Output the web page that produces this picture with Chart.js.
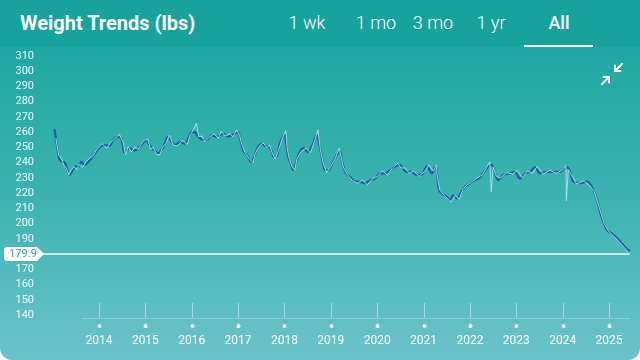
<!DOCTYPE html>
<html>
<head>
<meta charset="utf-8">
<script src="https://cdn.jsdelivr.net/npm/chart.js@4.4.1/dist/chart.umd.min.js"></script>
<style>
    html, body { margin: 0; padding: 0; background: #ffffff; }
    .card {
        position: relative;
        width: 640px;
        height: 360px;
        overflow: hidden;
        border-radius: 0 0 12px 12px;
        background: linear-gradient(to bottom, #1fa6a0 0px, #22a8a2 60px, #3db3b1 200px, #6cc3cb 360px);
        font-family: Roboto, "Open Sans", sans-serif;
    }
    .header {
        position: absolute;
        left: 0; top: 0;
        width: 640px; height: 47px;
        background: #18a29c;
        color: #ffffff;
    }
    .title {
        position: absolute;
        left: 20px; top: 11px;
        font-size: 20px;
        font-weight: 700;
    }
    .tab {
        position: absolute;
        top: 12px;
        font-size: 18px;
        font-weight: 300;
        transform: translateX(-50%);
        white-space: nowrap;
    }
    .tab.active { font-weight: 500; }
    .underline {
        position: absolute;
        left: 524px; top: 45px;
        width: 69px; height: 2px;
        background: #ffffff;
    }
    #chart { position: absolute; left: 0; top: 47px; }
    .collapse { position: absolute; left: 598px; top: 60px; }
</style>
</head>
<body>
<div class="card">
    <div class="header">
        <div class="title">Weight Trends (lbs)</div>
        <div class="tab" style="left:307px">1 wk</div>
        <div class="tab" style="left:376px">1 mo</div>
        <div class="tab" style="left:433px">3 mo</div>
        <div class="tab" style="left:491px">1 yr</div>
        <div class="tab active" style="left:559px">All</div>
        <div class="underline"></div>
    </div>
    <canvas id="chart" width="640" height="313"></canvas>
    <svg class="collapse" width="28" height="28" viewBox="0 0 28 28">
        <g stroke="#ffffff" stroke-width="2" fill="none" stroke-linecap="round">
            <line x1="24" y1="4" x2="17" y2="11"/>
            <polyline points="17,5.5 17,11 22.5,11"/>
            <line x1="4" y1="24" x2="11" y2="17"/>
            <polyline points="5.5,17 11,17 11,22.5"/>
        </g>
    </svg>
</div>

<script>
// Data trend berat (lbs) - tanggal dalam tahun desimal
const trendDates = [
    2013.04, 2013.10, 2013.15, 2013.22, 2013.26, 2013.32, 2013.37, 2013.43, 2013.49, 2013.55,
    2013.62, 2013.69, 2013.75, 2013.80, 2013.91, 2014.02, 2014.12, 2014.23, 2014.30, 2014.41,
    2014.48, 2014.55, 2014.60, 2014.66, 2014.73, 2014.80, 2014.91, 2015.02, 2015.08, 2015.14,
    2015.20, 2015.28, 2015.34, 2015.39, 2015.49, 2015.56, 2015.64, 2015.75, 2015.86, 2015.93,
    2016.00, 2016.07, 2016.12, 2016.18, 2016.25, 2016.32, 2016.43, 2016.54, 2016.61, 2016.68,
    2016.79, 2016.86, 2016.93, 2017.00, 2017.05, 2017.11, 2017.19, 2017.29, 2017.35, 2017.40,
    2017.51, 2017.58, 2017.65, 2017.72, 2017.76, 2017.83, 2017.90, 2018.01, 2018.04, 2018.08,
    2018.13, 2018.19, 2018.25, 2018.30, 2018.41, 2018.51, 2018.62, 2018.70, 2018.75, 2018.80,
    2018.87, 2018.95, 2019.05, 2019.15, 2019.20, 2019.24, 2019.31, 2019.42, 2019.52, 2019.63,
    2019.74, 2019.85, 2019.95, 2020.06, 2020.17, 2020.28, 2020.38, 2020.49, 2020.56, 2020.64,
    2020.74, 2020.85, 2020.96, 2021.07, 2021.18, 2021.25, 2021.28, 2021.32, 2021.39, 2021.50,
    2021.57, 2021.64, 2021.72, 2021.82, 2021.89, 2022.00, 2022.11, 2022.22, 2022.33, 2022.40,
    2022.47, 2022.54, 2022.61, 2022.72, 2022.87, 2022.97, 2023.08, 2023.19, 2023.30, 2023.40,
    2023.51, 2023.66, 2023.80, 2023.94, 2024.09, 2024.16, 2024.23, 2024.38, 2024.52, 2024.63,
    2024.74, 2024.84, 2024.95, 2025.06, 2025.17, 2025.27, 2025.38, 2025.45
];
const trendWeights = [
    262, 250, 242, 240.5, 240, 235, 232, 235, 237.5, 237,
    240.5, 238.5, 240, 241.5, 246, 250.5, 251.5, 251, 254.5, 257,
    256, 246, 248, 249.5, 248, 248.5, 251.5, 255, 252, 249.5,
    248, 246, 248, 250.5, 257, 254, 251.5, 253.5, 252.5, 256,
    260, 260, 258, 256, 255, 255, 258, 257, 258, 259,
    257, 258, 259, 260, 255, 248, 245, 240.5, 244, 248.5,
    252.5, 251, 250.5, 248, 244, 244, 252.5, 258, 252, 244,
    240, 235, 240, 245, 249.5, 247, 252.5, 258, 252, 245,
    235, 235, 240.5, 246, 247.5, 241, 234, 230.5, 227.5, 227.5,
    226.5, 228.5, 229.5, 233, 233, 235, 237.5, 238.5, 236, 234,
    234, 232, 232, 237.5, 233, 237.5, 236, 224, 220, 217.5,
    215.5, 218.5, 216.5, 221, 224, 226.5, 228.5, 230.5, 235, 237.5,
    238.5, 233, 228.5, 232, 233, 234, 229.5, 233, 234, 237,
    233, 234, 234, 234, 237, 234, 227.5, 226.5, 227.5, 224,
    215.5, 204.5, 196, 193.5, 190.5, 187, 183.5, 182
];

// Data timbangan mentah
const rawDates = [
    2013.07, 2013.13, 2013.20, 2013.24, 2013.30, 2013.35, 2013.40, 2013.46, 2013.52, 2013.58,
    2013.65, 2013.72, 2013.78, 2013.86, 2013.96, 2014.06, 2014.17, 2014.26, 2014.35, 2014.44,
    2014.52, 2014.57, 2014.63, 2014.70, 2014.77, 2014.85, 2014.96, 2015.05, 2015.11, 2015.17,
    2015.24, 2015.31, 2015.37, 2015.44, 2015.52, 2015.60, 2015.69, 2015.80, 2015.90, 2015.97,
    2016.04, 2016.10, 2016.15, 2016.22, 2016.28, 2016.37, 2016.48, 2016.57, 2016.64, 2016.72,
    2016.82, 2016.89, 2016.97, 2017.03, 2017.08, 2017.15, 2017.24, 2017.32, 2017.37, 2017.45,
    2017.54, 2017.62, 2017.68, 2017.74, 2017.80, 2017.87, 2017.95, 2018.03, 2018.06, 2018.11,
    2018.16, 2018.22, 2018.27, 2018.35, 2018.46, 2018.56, 2018.66, 2018.72, 2018.77, 2018.84,
    2018.91, 2019.00, 2019.10, 2019.18, 2019.22, 2019.27, 2019.36, 2019.47, 2019.57, 2019.68,
    2019.79, 2019.90, 2020.00, 2020.11, 2020.22, 2020.33, 2020.44, 2020.52, 2020.60, 2020.69,
    2020.79, 2020.90, 2021.02, 2021.12, 2021.21, 2021.27, 2021.30, 2021.35, 2021.44, 2021.53,
    2021.60, 2021.68, 2021.77, 2021.85, 2021.94, 2022.05, 2022.16, 2022.27, 2022.36, 2022.43,
    2022.46, 2022.50, 2022.57, 2022.66, 2022.79, 2022.92, 2023.02, 2023.13, 2023.24, 2023.35,
    2023.45, 2023.58, 2023.72, 2023.87, 2024.01, 2024.07, 2024.08, 2024.12, 2024.19, 2024.30,
    2024.45, 2024.57, 2024.68, 2024.79, 2024.90, 2025.00, 2025.11, 2025.22, 2025.32, 2025.41
];
const rawWeights = [
    256, 245, 242, 238.5, 236, 232, 235, 237.5, 235.5, 239,
    237, 240.5, 242.5, 244, 249, 252.5, 249.5, 253.5, 256, 258.5,
    253.5, 245, 250.5, 247, 250, 249, 254.5, 255.5, 249, 250,
    245.5, 245, 250, 252.5, 258, 251.5, 251, 254.5, 252, 258.5,
    261.5, 266, 257, 257.5, 254, 256.5, 259, 256, 260.5, 257.5,
    259, 257, 261.5, 258, 252, 246.5, 242.5, 240, 246, 250.5,
    253, 250, 251.5, 246, 242.5, 248, 255.5, 261, 249, 242,
    237.5, 235, 242.5, 247, 249.5, 246.5, 255, 261.5, 249.5, 239,
    233.5, 237.5, 243, 249.5, 244, 237, 232, 228, 226.5, 228.5,
    225.5, 229.5, 231, 234.5, 232, 236.5, 239.5, 236.5, 236.5, 233,
    234.5, 231, 234, 238.5, 234.5, 238.5, 230, 222, 218.5, 216,
    214, 218.5, 216, 222.5, 225.5, 227.5, 230, 232, 237, 240.5,
    221, 237, 231, 230, 233.5, 232.5, 235, 230, 234.5, 233,
    237.5, 232.5, 235, 233, 235.5, 238, 215, 235.5, 232, 226,
    228, 225.5, 221, 210.5, 199.5, 194.5, 191.5, 188, 184.5, 181.5
];

// Tick sumbu
const yearTicks = [2014, 2015, 2016, 2017, 2018, 2019, 2020, 2021, 2022, 2023, 2024, 2025];
const weightTicks = [140, 150, 160, 170, 180, 190, 200, 210, 220, 230, 240, 250, 260, 270, 280, 290, 300, 310];
const currentWeight = 179.9;

const toPoints = (xs, ys) => xs.map((x, i) => ({ x: x, y: ys[i] }));

// Plugin untuk dekorasi sumbu X dan garis berat saat ini
const decorPlugin = {
    id: 'decor',
    afterDatasetsDraw(chart) {
        const { ctx, scales } = chart;
        const xs = scales.x;
        const ys = scales.y;
        const axisY = chart.chartArea.bottom;

        ctx.save();
        // garis sumbu tipis
        ctx.strokeStyle = 'rgba(255,255,255,0.25)';
        ctx.lineWidth = 1;
        ctx.beginPath();
        ctx.moveTo(82, axisY + 0.5);
        ctx.lineTo(630, axisY + 0.5);
        ctx.stroke();

        yearTicks.forEach(yr => {
            const px = Math.round(xs.getPixelForValue(yr)) + 0.5;
            ctx.strokeStyle = 'rgba(255,255,255,0.45)';
            ctx.beginPath();
            ctx.moveTo(px, axisY - 15);
            ctx.lineTo(px, axisY);
            ctx.stroke();
            ctx.fillStyle = '#ffffff';
            ctx.beginPath();
            ctx.arc(px, axisY + 8, 2, 0, Math.PI * 2);
            ctx.fill();
        });

        // garis berat saat ini
        const cy = Math.round(ys.getPixelForValue(currentWeight));
        ctx.strokeStyle = 'rgba(255,255,255,0.9)';
        ctx.lineWidth = 1.5;
        ctx.beginPath();
        ctx.moveTo(43, cy);
        ctx.lineTo(630, cy);
        ctx.stroke();

        ctx.fillStyle = '#ffffff';
        ctx.beginPath();
        ctx.moveTo(7, cy - 7);
        ctx.lineTo(37, cy - 7);
        ctx.lineTo(44, cy);
        ctx.lineTo(37, cy + 7);
        ctx.lineTo(7, cy + 7);
        ctx.quadraticCurveTo(4, cy + 7, 4, cy + 4);
        ctx.lineTo(4, cy - 4);
        ctx.quadraticCurveTo(4, cy - 7, 7, cy - 7);
        ctx.fill();

        ctx.fillStyle = '#3aa9a8';
        ctx.font = '11px Roboto, sans-serif';
        ctx.textAlign = 'center';
        ctx.textBaseline = 'middle';
        ctx.fillText(currentWeight.toFixed(1), 23, cy + 0.5);
        ctx.restore();
    }
};

new Chart(document.getElementById('chart'), {
    type: 'line',
    data: {
        datasets: [
            {
                label: 'Raw',
                data: toPoints(rawDates, rawWeights),
                borderColor: 'rgba(175,228,234,0.9)',
                borderWidth: 1,
                pointRadius: 0,
                tension: 0
            },
            {
                label: 'Trend',
                data: toPoints(trendDates, trendWeights),
                borderColor: '#1a5fa0',
                borderWidth: 2.2,
                pointRadius: 0,
                cubicInterpolationMode: 'monotone'
            }
        ]
    },
    options: {
        responsive: false,
        animation: false,
        devicePixelRatio: 1,
        layout: { padding: { top: 9, right: 5, left: 0, bottom: 0 } },
        plugins: {
            legend: { display: false },
            tooltip: { enabled: false }
        },
        scales: {
            x: {
                type: 'linear',
                min: 2012.598,
                max: 2025.56,
                grid: { display: false, drawTicks: false },
                border: { display: false },
                afterBuildTicks: scale => { scale.ticks = yearTicks.map(v => ({ value: v })); },
                afterFit: scale => { scale.height = 42; },
                ticks: {
                    color: '#ffffff',
                    padding: 16,
                    maxRotation: 0,
                    autoSkip: false,
                    font: { family: 'Roboto', size: 12 },
                    callback: v => String(v)
                }
            },
            y: {
                min: 138.03,
                max: 310,
                grid: { display: false, drawTicks: false },
                border: { display: false },
                afterBuildTicks: scale => { scale.ticks = weightTicks.map(v => ({ value: v })); },
                afterFit: scale => { scale.width = 34; },
                ticks: {
                    color: 'rgba(255,255,255,0.92)',
                    padding: 0,
                    autoSkip: false,
                    font: { family: 'Roboto', size: 11 },
                    callback: v => String(v)
                }
            }
        }
    },
    plugins: [decorPlugin]
});
</script>
</body>
</html>
